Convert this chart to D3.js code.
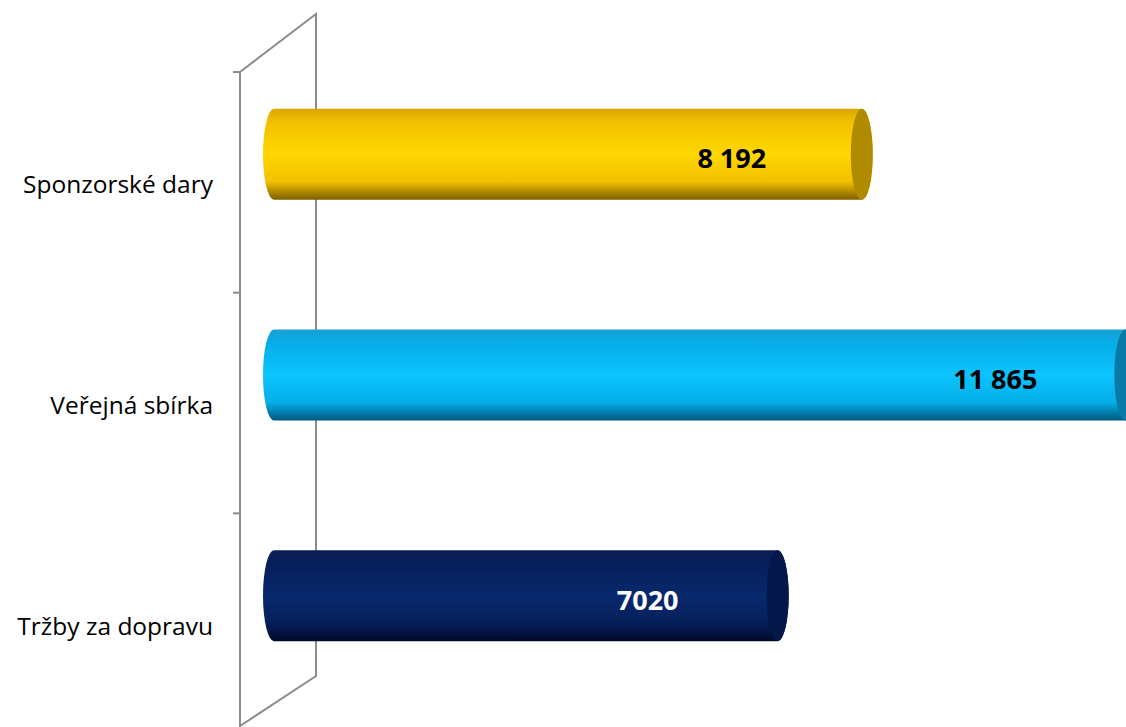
<!DOCTYPE html>
<html>
<head>
<meta charset="utf-8">
<script src="https://cdn.jsdelivr.net/npm/d3@7"></script>
<style>
  body { margin: 0; background: #fff; }
  svg { display: block; }
</style>
</head>
<body>
<div id="chart"></div>
<script>
// data
const categories = ["Sponzorské dary", "Veřejná sbírka", "Tržby za dopravu"];
const values = [8192, 11865, 7020];
const valueLabels = ["8 192", "11 865", "7020"];

const width = 1126, height = 727;
const svg = d3.select("#chart").append("svg").attr("width", width).attr("height", height);
const defs = svg.append("defs");

const xScale = d3.scaleLinear().domain([0, 12000]).range([274, 1135]);
const yScale = d3.scaleBand().domain(categories).range([72, 734]);

const barH = 91;
const rx = 11;
const depthShift = 28; // bars sit above band centre (3d look)

// colours per bar: top, mid, bottom, cap, label
const palettes = [
  { top: "#d9a800", mid: "#ffd700", low: "#f2c000", bot: "#7d5d00", cap: "#b08b00", text: "#000" },
  { top: "#1a9fd6", mid: "#0cc4ff", low: "#05aee8", bot: "#00587f", cap: "#0a7aa6", text: "#000" },
  { top: "#0b1c55", mid: "#08296e", low: "#061f5a", bot: "#000a2a", cap: "#04174a", text: "#fff" }
];

palettes.forEach((p, i) => {
  const g = defs.append("linearGradient").attr("id", "grad" + i)
    .attr("x1", 0).attr("y1", 0).attr("x2", 0).attr("y2", 1);
  g.append("stop").attr("offset", "0%").attr("stop-color", p.top);
  g.append("stop").attr("offset", "15%").attr("stop-color", p.low);
  g.append("stop").attr("offset", "50%").attr("stop-color", p.mid);
  g.append("stop").attr("offset", "80%").attr("stop-color", p.low);
  g.append("stop").attr("offset", "100%").attr("stop-color", p.bot);
});

// walls
const wall = svg.append("g").attr("fill", "none").attr("stroke", "#8c8c8c").attr("stroke-width", 2);
const [y0, y1] = yScale.range();
wall.append("path").attr("d", `M240,${y0} L316,14 L316,676 L240,${y1 - 8}`);
wall.append("line").attr("x1", 240).attr("x2", 240).attr("y1", y0).attr("y2", height);
wall.selectAll(".tick")
  .data(categories.map(c => yScale(c)).concat([y1]))
  .join("line")
  .attr("x1", 233).attr("x2", 240)
  .attr("y1", d => d).attr("y2", d => d);

// bars
const bars = svg.selectAll(".bar")
  .data(values)
  .join("g")
  .attr("class", "bar")
  .attr("transform", (d, i) => `translate(0,${yScale(categories[i]) + yScale.bandwidth() / 2 - depthShift})`);

bars.append("path")
  .attr("d", d => {
    const x0 = xScale(0), x1 = xScale(d), h = barH / 2;
    return `M${x1},${-h} L${x0},${-h} A${rx},${h} 0 0 0 ${x0},${h} L${x1},${h} A${rx},${h} 0 0 0 ${x1},${-h} Z`;
  })
  .attr("fill", (d, i) => `url(#grad${i})`);

bars.append("ellipse")
  .attr("cx", d => xScale(d))
  .attr("cy", 0)
  .attr("rx", rx)
  .attr("ry", barH / 2)
  .attr("fill", (d, i) => palettes[i].cap);

bars.append("text")
  .attr("x", d => xScale(d) - 130)
  .attr("y", 14)
  .attr("text-anchor", "middle")
  .attr("font-family", "'Open Sans', sans-serif")
  .attr("font-weight", "bold")
  .attr("font-size", 27)
  .attr("fill", (d, i) => palettes[i].text)
  .text((d, i) => valueLabels[i]);

// category labels
svg.selectAll(".cat")
  .data(categories)
  .join("text")
  .attr("class", "cat")
  .attr("x", 213)
  .attr("y", d => yScale(d) + yScale.bandwidth() / 2 + 11)
  .attr("text-anchor", "end")
  .attr("font-family", "'Open Sans', sans-serif")
  .attr("font-size", 24.5)
  .attr("fill", "#000")
  .text(d => d);
</script>
</body>
</html>
